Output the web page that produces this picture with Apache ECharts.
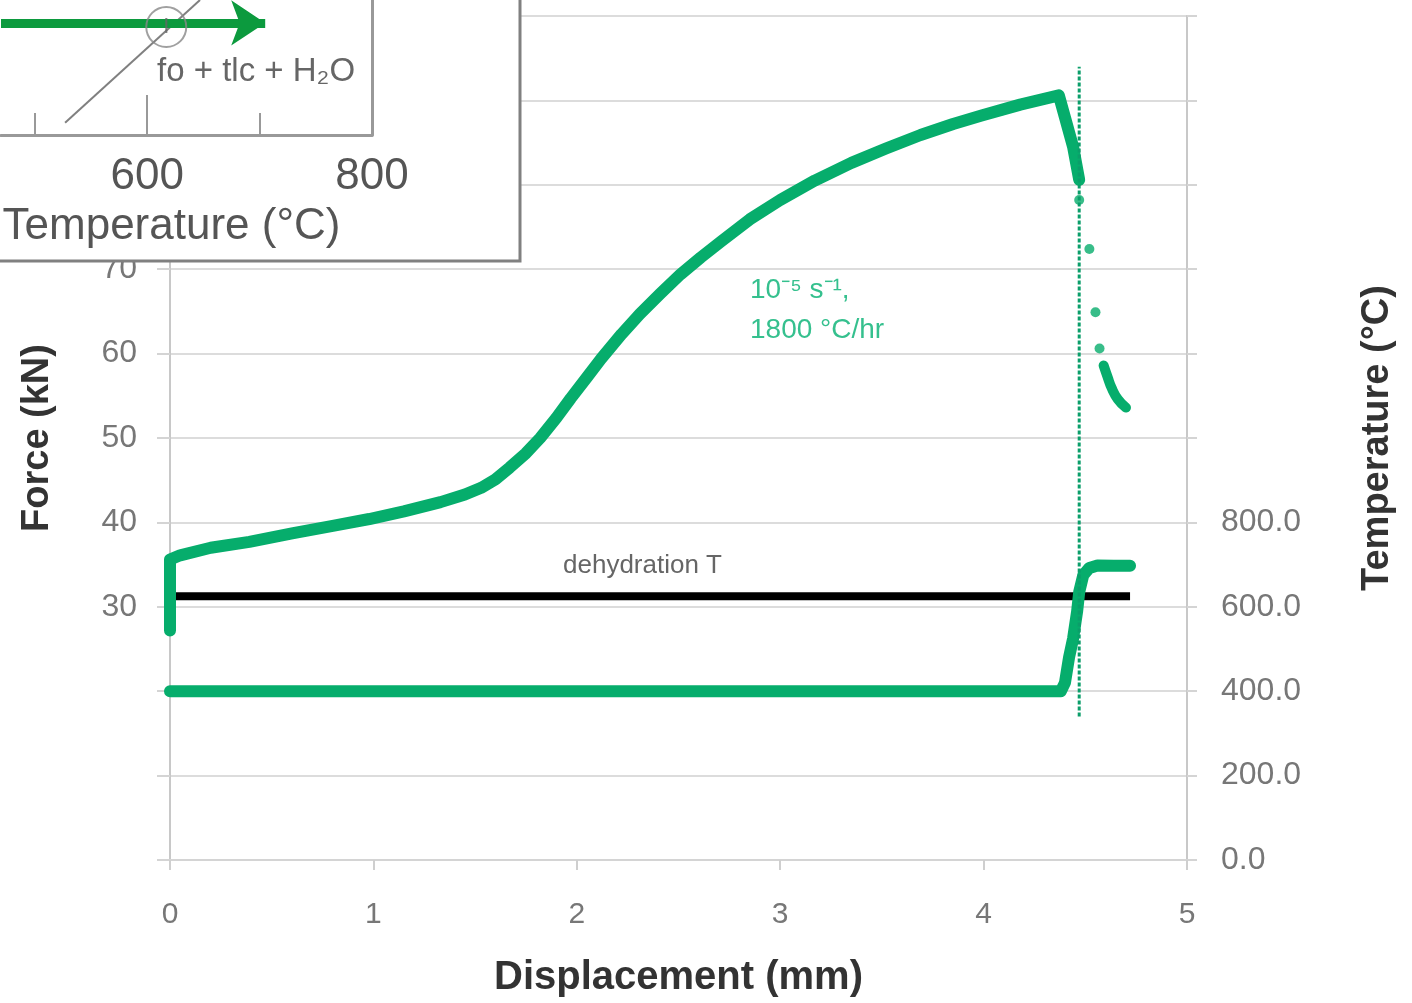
<!DOCTYPE html>
<html>
<head>
<meta charset="utf-8">
<title>Force and temperature vs displacement</title>
<script src="https://cdn.jsdelivr.net/npm/echarts@6/dist/echarts.min.js"></script>
<style>
  html, body { margin: 0; padding: 0; background: #fff; }
  #main { width: 1412px; height: 1003px; }
</style>
</head>
<body>
<div id="main"></div>
<script>
// force (kN) against displacement (mm)
const forceCurve = [
  [0, 27.2], [0, 31], [0, 35.6], [0.05, 36.1], [0.2, 37], [0.39, 37.7], [0.6, 38.7],
  [0.8, 39.6], [0.98, 40.4], [1.15, 41.3], [1.33, 42.4], [1.45, 43.3], [1.53, 44.1],
  [1.6, 45.1], [1.67, 46.5], [1.75, 48.2], [1.82, 50], [1.9, 52.4], [1.97, 54.7],
  [2.05, 57.2], [2.12, 59.4], [2.22, 62.3], [2.31, 64.7], [2.41, 67.1], [2.51, 69.4],
  [2.61, 71.4], [2.71, 73.3], [2.85, 75.9], [3.0, 78.2], [3.17, 80.5], [3.35, 82.6],
  [3.52, 84.3], [3.69, 85.9], [3.85, 87.2], [3.99, 88.2], [4.18, 89.5], [4.37, 90.6],
  [4.40, 88.0], [4.44, 84.5], [4.47, 80.6]
];
const forceDots = [[4.47, 78.2], [4.52, 72.4], [4.55, 64.9], [4.57, 60.6]];
const forceTail = [[4.59, 58.6], [4.61, 57.2], [4.63, 55.9], [4.66, 54.6], [4.70, 53.6]];

// temperature (°C) against displacement (mm)
const tempCurve = [
  [0, 400], [4.38, 400], [4.40, 420], [4.42, 480], [4.44, 525], [4.46, 590], [4.47, 635],
  [4.49, 675], [4.52, 692], [4.56, 698], [4.64, 697], [4.72, 697]
];
const dehydrationT = [[0, 625], [4.72, 625]];
const rateMarker = [[4.47, 17], [4.47, 94]];

// inset: P-T sketch
const insetPath = [[470, 0.83], [705, 0.83]];
const insetReaction = [[527, 0.09], [647, 1.0]];
const insetPoint = [[617, 0.8]];
const insetMajorTicks = [600, 800];
const insetMinorTicks = [500, 700];

const green = '#06ad6c';
const font = 'Liberation Sans';

const chart = echarts.init(document.getElementById('main'));

const option = {
  backgroundColor: '#fff',
  animation: false,
  grid: [
    { left: 170, right: 225, top: 12, bottom: 143 },
    { left: 1, width: 371, top: 0, height: 135 }
  ],
  xAxis: [
    {
      type: 'value', gridIndex: 0, min: 0, max: 5, interval: 1,
      name: 'Displacement (mm)', nameLocation: 'middle', nameGap: 98,
      nameTextStyle: { fontFamily: font, fontWeight: 'bold', fontSize: 40, color: '#333' },
      axisLine: { show: true, lineStyle: { color: '#d4d4d4', width: 2 } },
      axisTick: { show: true, length: 10, lineStyle: { color: '#cfcfcf', width: 2 } },
      axisLabel: { margin: 40, fontFamily: font, fontSize: 30, color: '#777' },
      splitLine: { show: false }
    },
    {
      type: 'value', gridIndex: 1, position: 'bottom', min: 470, max: 800, z: 110,
      name: 'Temperature (°C)', nameLocation: 'middle', nameGap: 70,
      nameTextStyle: { fontFamily: font, fontSize: 44, color: '#555', padding: [0, 30, 0, 0] },
      axisLine: { show: true, lineStyle: { color: '#999', width: 3 } },
      axisTick: { show: true, inside: true, length: 40, customValues: insetMajorTicks,
        lineStyle: { color: '#999', width: 2 } },
      axisLabel: { margin: 20, customValues: insetMajorTicks, fontFamily: font, fontSize: 44, color: '#555' },
      splitLine: { show: false }
    },
    {
      type: 'value', gridIndex: 1, position: 'bottom', min: 470, max: 800, z: 110,
      axisLine: { show: false },
      axisTick: { show: true, inside: true, length: 22, customValues: insetMinorTicks,
        lineStyle: { color: '#999', width: 2 } },
      axisLabel: { show: false },
      splitLine: { show: false }
    }
  ],
  yAxis: [
    {
      type: 'value', gridIndex: 0, min: 0, max: 100, interval: 10,
      name: 'Force (kN)', nameLocation: 'middle', nameGap: 113, nameRotate: 90,
      nameTextStyle: { fontFamily: font, fontWeight: 'bold', fontSize: 38, color: '#333' },
      axisLine: { show: true, lineStyle: { color: '#c8c8c8', width: 2 } },
      axisTick: { show: true, length: 13, lineStyle: { color: '#d4d4d4', width: 2 } },
      axisLabel: { margin: 33, fontFamily: font, fontSize: 32, color: '#777',
        formatter: v => (v >= 30 ? String(v) : '') },
      splitLine: { show: true, lineStyle: { color: '#dcdcdc', width: 2 } }
    },
    {
      type: 'value', gridIndex: 0, min: 0, max: 2000, interval: 200, position: 'right',
      name: 'Temperature (°C)', nameLocation: 'middle', nameGap: 172, nameRotate: 90,
      nameTextStyle: { fontFamily: font, fontWeight: 'bold', fontSize: 38, color: '#333' },
      axisLine: { show: true, lineStyle: { color: '#c8c8c8', width: 2 } },
      axisTick: { show: true, length: 10, lineStyle: { color: '#d4d4d4', width: 2 } },
      axisLabel: { margin: 34, fontFamily: font, fontSize: 32, color: '#777',
        formatter: v => (v <= 800 ? v.toFixed(1) : '') },
      splitLine: { show: false }
    },
    {
      type: 'value', gridIndex: 1, min: 0, max: 1, position: 'right', z: 110,
      axisLine: { show: true, lineStyle: { color: '#999', width: 3 } },
      axisTick: { show: false },
      axisLabel: { show: false },
      splitLine: { show: false }
    }
  ],
  series: [
    {
      name: 'dehydration T', type: 'line', xAxisIndex: 0, yAxisIndex: 1, data: dehydrationT,
      showSymbol: false, lineStyle: { color: '#000', width: 8 }, z: 3
    },
    {
      name: 'temperature', type: 'line', xAxisIndex: 0, yAxisIndex: 1, data: tempCurve,
      showSymbol: false, lineStyle: { color: green, width: 12, cap: 'round', join: 'round' }, z: 4
    },
    {
      name: 'force', type: 'line', xAxisIndex: 0, yAxisIndex: 0, data: forceCurve,
      showSymbol: false, lineStyle: { color: green, width: 12, cap: 'round', join: 'round' }, z: 4
    },
    {
      name: 'force tail', type: 'line', xAxisIndex: 0, yAxisIndex: 0, data: forceTail,
      showSymbol: false, smooth: true, lineStyle: { color: green, width: 10, cap: 'round' }, z: 4
    },
    {
      name: 'force dots', type: 'scatter', xAxisIndex: 0, yAxisIndex: 0, data: forceDots,
      symbolSize: 10, itemStyle: { color: green }, z: 4
    },
    {
      name: 'rate marker', type: 'line', xAxisIndex: 0, yAxisIndex: 0, data: rateMarker,
      showSymbol: false, lineStyle: { color: '#0b9e6a', width: 3, type: [4, 2] }, z: 5
    },
    // inset sketch
    {
      type: 'line', xAxisIndex: 1, yAxisIndex: 2, data: insetReaction, showSymbol: false,
      lineStyle: { color: '#808080', width: 2 }, z: 110
    },
    {
      type: 'lines', coordinateSystem: 'cartesian2d', xAxisIndex: 1, yAxisIndex: 2,
      data: [{ coords: insetPath }], symbol: ['none', 'arrow'], symbolSize: 34,
      lineStyle: { color: '#0c9a3e', width: 9, opacity: 1 }, z: 111
    },
    {
      type: 'scatter', xAxisIndex: 1, yAxisIndex: 2, data: insetPoint, symbol: 'circle',
      symbolSize: 40, itemStyle: { color: 'rgba(0,0,0,0)', borderColor: '#888', borderWidth: 2 },
      label: { show: true, position: 'inside', formatter: 'I', fontFamily: font, fontSize: 22, color: '#666' },
      z: 112
    }
  ],
  graphic: [
    {
      type: 'rect', z: 100, silent: true,
      shape: { x: -10, y: -10, width: 530, height: 271 },
      style: { fill: '#fff', stroke: '#808080', lineWidth: 3 }
    },
    {
      type: 'text', z: 120, left: 157, top: 55,
      style: { text: 'fo + tlc + H₂O', fontFamily: font, fontSize: 33, fill: '#666' }
    },
    {
      type: 'text', z: 20, left: 563, top: 553,
      style: { text: 'dehydration T', fontFamily: font, fontSize: 26, fill: '#666' }
    },
    {
      type: 'text', z: 20, left: 750, top: 270,
      style: { text: '10⁻⁵ s⁻¹,\n1800 °C/hr', fontFamily: font, fontSize: 28, lineHeight: 40, fill: '#35c08e' }
    }
  ]
};

chart.setOption(option);
</script>
</body>
</html>
